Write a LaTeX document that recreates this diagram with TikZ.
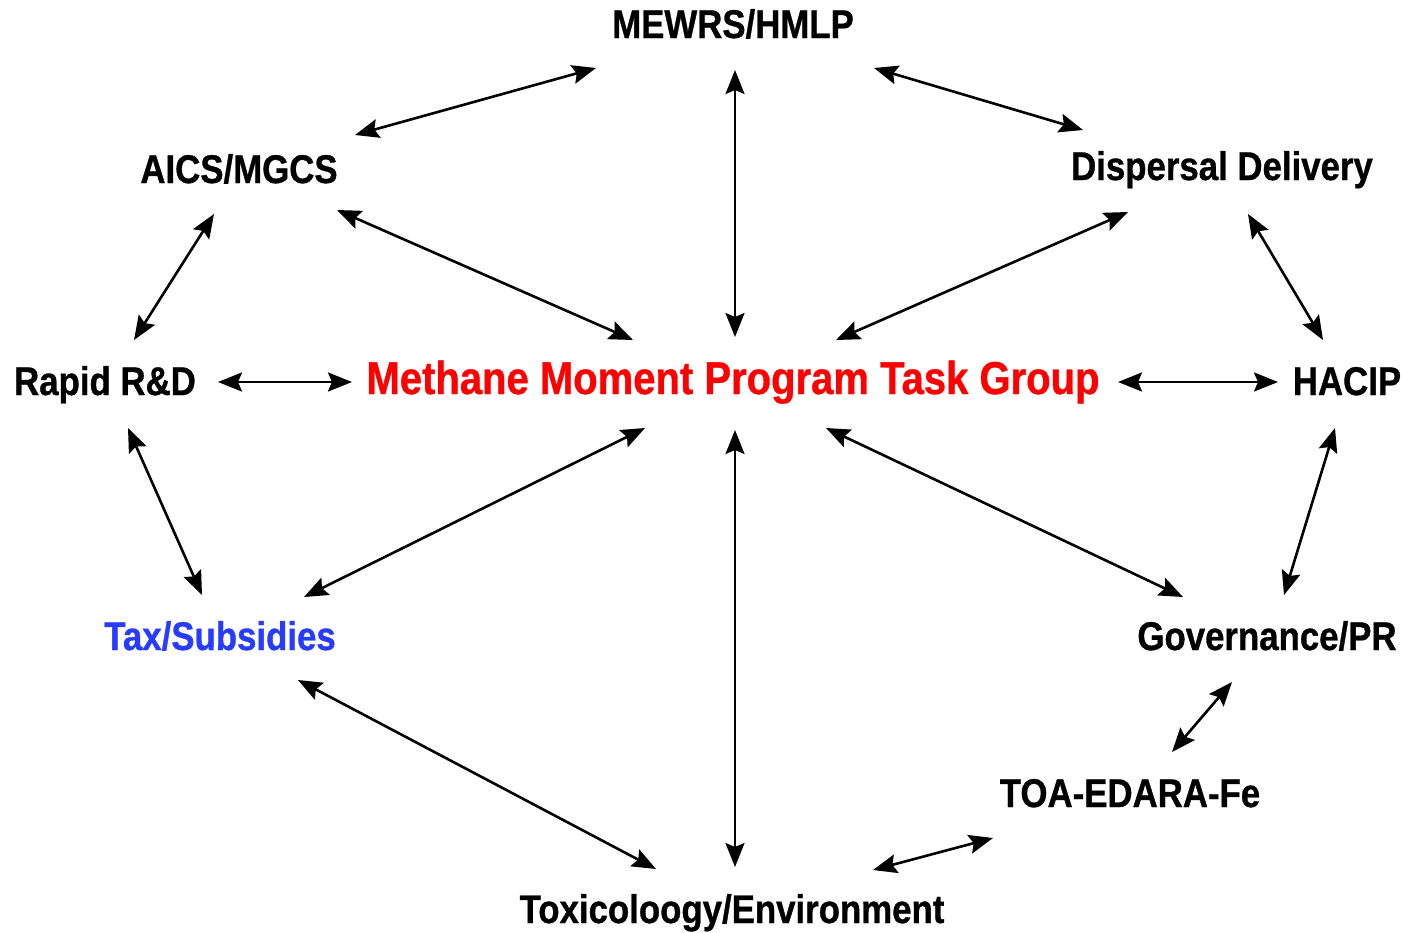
\documentclass[tikz,border=0pt]{standalone}
\usepackage{fontspec}
\newfontfamily\condfont[FakeStretch=0.87, BoldFeatures={FakeBold=0.8}]{Liberation Sans}
\usetikzlibrary{arrows.meta}
\definecolor{taxblue}{RGB}{40,60,255}
\definecolor{mred}{RGB}{255,0,0}
\tikzset{
  lbl/.style={font=\condfont\bfseries\fontsize{40}{40}\selectfont, inner sep=0pt, anchor=base},
  biglbl/.style={font=\condfont\bfseries\fontsize{46}{46}\selectfont, inner sep=0pt, anchor=base, text=mred},
  arr/.style={line width=2.6pt, {Stealth[length=24pt,width=19pt,inset=4pt]}-{Stealth[length=24pt,width=19pt,inset=4pt]}}
}
\begin{document}
\begin{tikzpicture}[x=1pt,y=-1pt]
\useasboundingbox (0,0) rectangle (1402,932);
\node[lbl] (mewrs) at (733,38) {MEWRS/HMLP};
\node[lbl] (aics) at (239,183) {AICS/MGCS};
\node[lbl] (disp) at (1222,180) {Dispersal Delivery};
\node[lbl] (rapid) at (105,395) {Rapid R\&D};
\node[biglbl] (ctr) at (733,394) {Methane Moment Program Task Group};
\node[lbl] (hacip) at (1347,395) {HACIP};
\node[lbl, text=taxblue] (tax) at (220,650) {Tax/Subsidies};
\node[lbl] (gov) at (1267,650) {Governance/PR};
\node[lbl] (toa) at (1130,807) {TOA-EDARA-Fe};
\node[lbl] (tox) at (732,923) {Toxicoloogy/Environment};

\draw[arr] ([shift={(116,-48)}]aics.base) -- ([shift={(-137,30)}]mewrs.base);
\draw[arr] ([shift={(141,30)}]mewrs.base) -- ([shift={(-139,-50)}]disp.base);
\draw[arr] ([shift={(2,32)}]mewrs.base) -- ([shift={(2,-57)}]ctr.base);
\draw[arr] ([shift={(98,27)}]aics.base) -- ([shift={(-100,-54)}]ctr.base);
\draw[arr] ([shift={(-94,32)}]disp.base) -- ([shift={(103,-54)}]ctr.base);
\draw[arr] ([shift={(-25,31)}]aics.base) -- ([shift={(29,-55)}]rapid.base);
\draw[arr] ([shift={(26,34)}]disp.base) -- ([shift={(-24,-55)}]hacip.base);
\draw[arr] ([shift={(113,-13)}]rapid.base) -- ([shift={(-381,-12)}]ctr.base);
\draw[arr] ([shift={(385,-12)}]ctr.base) -- ([shift={(-69,-13)}]hacip.base);
\draw[arr] ([shift={(23,33)}]rapid.base) -- ([shift={(-18,-55)}]tax.base);
\draw[arr] ([shift={(-88,34)}]ctr.base) -- ([shift={(84,-53)}]tax.base);
\draw[arr] ([shift={(2,36)}]ctr.base) -- ([shift={(3,-56)}]tox.base);
\draw[arr] ([shift={(93,34)}]ctr.base) -- ([shift={(-84,-53)}]gov.base);
\draw[arr] ([shift={(-12,33)}]hacip.base) -- ([shift={(17,-55)}]gov.base);
\draw[arr] ([shift={(-35,32)}]gov.base) -- ([shift={(42,-55)}]toa.base);
\draw[arr] ([shift={(78,30)}]tax.base) -- ([shift={(-76,-54)}]tox.base);
\draw[arr] ([shift={(-137,31)}]toa.base) -- ([shift={(141,-53)}]tox.base);
\end{tikzpicture}
\end{document}
